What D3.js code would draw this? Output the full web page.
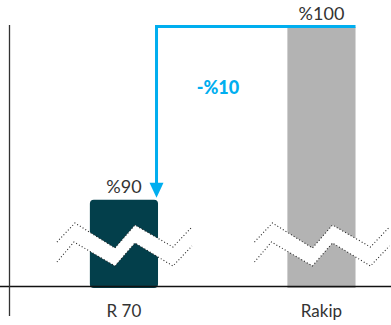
<!DOCTYPE html>
<html><head><meta charset="utf-8">
<script src="https://cdn.jsdelivr.net/npm/d3@7"></script>
<style>body{margin:0;background:#fff}svg{display:block}text{font-family:Lato,"Open Sans",sans-serif}</style>
</head><body><div id="chart"></div>
<script>
const categories = ["R 70", "Rakip"];
const values = [90, 100];
const valueLabels = ["%90", "%100"];
const diffLabel = "-%10";
const colors = ["#033f4b", "#b3b3b3"];
const yDomain = [85, 100];

const W = 391, H = 325;
const svg = d3.select("#chart").append("svg").attr("width", W).attr("height", H);

const x = d3.scaleBand().domain(categories).range([24.7, 420.7]).paddingInner(0.655).paddingOuter(0.33);
const y = d3.scaleLinear().domain(yDomain).range([286, 27]);
const bw = x.bandwidth();

categories.forEach((c, i) => {
  const x0 = x(c), yt = y(values[i]), yb = y(yDomain[0]);
  const r = i === 0 ? 4 : 0;
  svg.append("rect").attr("x", x0).attr("y", yt).attr("width", bw).attr("height", yb - yt + 2)
    .attr("rx", r).attr("fill", colors[i]);
});

// axes
svg.append("line").attr("x1", 0).attr("x2", W).attr("y1", 286.5).attr("y2", 286.5).attr("stroke", "#111").attr("stroke-width", 1.3);
svg.append("line").attr("x1", 9.5).attr("x2", 9.5).attr("y1", 25).attr("y2", 316).attr("stroke", "#333").attr("stroke-width", 1.3);

// break symbols
const brkTop = [[-67, 242], [-49, 223], [-9, 248], [11, 225], [49, 247], [68, 227]];
const brkBot = [[-67, 262], [-50, 242], [-9, 266], [11, 243], [49, 266], [68, 246]];
categories.forEach(c => {
  const cx = x(c) + bw / 2;
  const top = brkTop.map(p => [cx + p[0], p[1]]);
  const bot = brkBot.map(p => [cx + p[0], p[1]]);
  svg.append("path").attr("d", d3.line()(top.concat(bot.slice().reverse())) + "Z").attr("fill", "#fff");
  [top, bot].forEach(l => svg.append("path").attr("d", d3.line()(l)).attr("fill", "none")
    .attr("stroke", "#222").attr("stroke-width", 1.1).attr("stroke-dasharray", "1,2.2"));
});

// arrow
const blue = "#00aeef";
const ax = x(categories[0]) + bw - 1.5;
const topY = y(values[1]) - 0.5;
const x2 = x(categories[1]) + bw;
svg.append("path").attr("d", `M${x2},${topY}H${ax}V${y(values[0]) - 14}`)
  .attr("fill", "none").attr("stroke", blue).attr("stroke-width", 3);
svg.append("path").attr("d", `M${ax - 7},${y(values[0]) - 17}L${ax + 7},${y(values[0]) - 17}L${ax},${y(values[0]) - 2}Z`).attr("fill", blue);

svg.append("text").attr("x", 218).attr("y", 94).attr("text-anchor", "middle").attr("fill", blue)
  .attr("font-weight", "900").attr("font-size", 18).text(diffLabel);

categories.forEach((c, i) => {
  svg.append("text").attr("x", x(c) + bw / 2).attr("y", y(values[i]) - 7).attr("text-anchor", "middle")
    .attr("fill", "#333").attr("font-size", 18).text(valueLabels[i]);
  svg.append("text").attr("x", x(c) + bw / 2).attr("y", 317).attr("text-anchor", "middle")
    .attr("fill", "#333").attr("font-size", 17).text(c);
});
</script></body></html>
